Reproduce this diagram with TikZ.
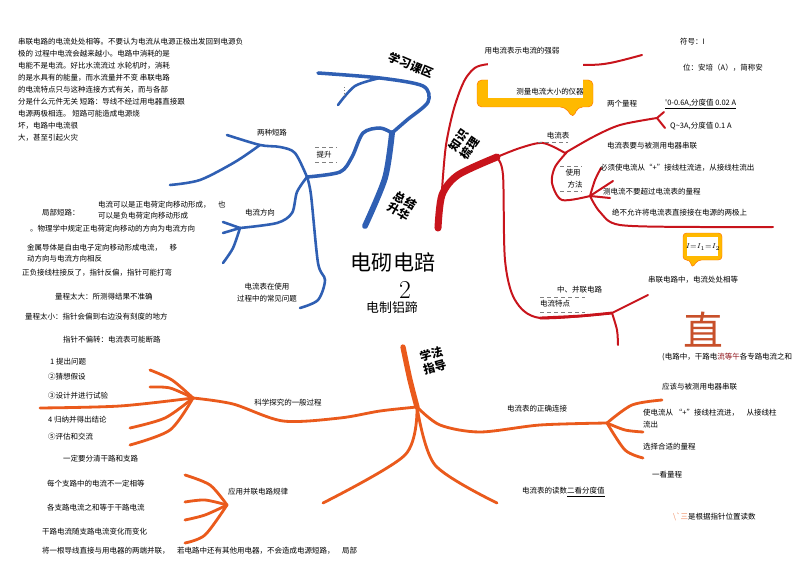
\documentclass[tikz,border=0pt]{standalone}
\usepackage{fontspec}
\newfontfamily\cjk{Noto Sans CJK SC}
\definecolor{mblue}{HTML}{2F5FB3}
\definecolor{mred}{HTML}{C8141C}
\definecolor{morange}{HTML}{EA5A1C}
\definecolor{mzhi}{HTML}{C8502A}
\begin{document}
\begin{tikzpicture}[x=0.03cm,y=-0.03cm,
  txt/.style={font=\cjk\fontsize{6.4}{10.2}\selectfont,inner sep=0pt,anchor=west,align=left},
  lbl/.style={txt,anchor=center,align=center},
  tag/.style={font=\cjk\bfseries\fontsize{10}{11.5}\selectfont,inner sep=0pt,align=center},
  bluebr/.style={draw=mblue,line width=2.2pt,line cap=round},
  redbr/.style={draw=mred,line width=1.7pt,line cap=round},
  orbr/.style={draw=morange,line width=2.4pt,line cap=round},
  dsh/.style={draw=gray,dashed,line width=0.3pt}]
\fill[white] (0,0) rectangle (800,562);
\useasboundingbox (0,0) rectangle (800,562);
% blue part
\draw[bluebr,line width=5pt] plot[smooth] coordinates {(392,133) (385,178) (365,226)};
\draw[bluebr,line width=3pt] plot[smooth] coordinates {(392,133) (407,120) (428,102) (423,86) (380,78) (318,73)};
\draw[bluebr] plot[smooth] coordinates {(380,78) (355,86) (338,105)};
\draw[bluebr,line width=3pt] plot[smooth] coordinates {(392,133) (380,128) (363,133) (352,157) (340,172) (307,177)};
\draw[bluebr] plot[smooth] coordinates {(307,177) (295,153) (280,147) (260,145) (227,135)};
\draw[bluebr] plot[smooth] coordinates {(260,145) (235,162) (200,180) (170,185)};
\draw[bluebr] plot[smooth] coordinates {(307,177) (297,192) (292,213) (277,223) (240,228)};
\draw[bluebr] (240,228) -- (223,222);
\draw[bluebr] (240,228) -- (223,233);
\draw[bluebr] plot[smooth] coordinates {(240,228) (233,248) (223,263)};
\draw[bluebr] plot[smooth] coordinates {(307,177) (311,195) (318,263) (325,280) (318,300) (300,308)};
\draw[dsh] (315,147) -- (337,147);
\draw[dsh] (315,162) -- (337,162);
\draw[gray,dotted] (344,87) -- (344,96);
% red part
\draw[redbr] plot[smooth] coordinates {(442,190) (446,145) (455,105) (468,75) (490,64) (583,65) (610,63) (642,55)};
\draw[draw=orange!90!red,fill=orange!55!yellow,rounded corners=4] (477,80) -- (593,80) -- (593,107) -- (578,107) -- (573,118) -- (565,107) -- (477,107) -- cycle;
\fill[white] (488,58) rectangle (583,98);
\draw[redbr,line width=6pt] plot[smooth] coordinates {(438,228) (442,195) (458,175) (497,157)};
\draw[redbr] plot[smooth] coordinates {(497,157) (520,148) (543,143) (565,153)};
\draw[redbr] plot[smooth] coordinates {(565,153) (593,137) (620,125) (657,118)};
\draw[redbr] (657,118) -- (664,112);
\draw[redbr] (657,118) -- (665,128);
\draw[redbr] plot[smooth] coordinates {(567,152) (555,167) (552,183) (562,200) (590,196)};
\draw[redbr] plot[smooth] coordinates {(590,196) (595,180) (601,168)};
\draw[redbr] (590,196) -- (613,181);
\draw[redbr] (590,196) -- (610,198);
\draw[redbr] plot[smooth] coordinates {(590,196) (600,212) (620,225) (700,227) (773,227)};
\draw[redbr] plot[smooth] coordinates {(497,158) (503,175) (505,260) (515,300) (540,318) (612,313)};
\draw[redbr,line width=2.4pt] plot[smooth] coordinates {(540,318) (580,316) (612,313)};
\draw[redbr] (612,313) -- (648,295);
\draw[redbr] plot[smooth] coordinates {(612,313) (617,330) (618,345)};
\draw[dsh] (538,142) -- (568,142);
\draw[dsh] (560,166) -- (582,166);
\draw[dsh] (560,191) -- (582,191);
\draw[dsh] (540,297) -- (585,297);
\draw[dsh] (540,312) -- (585,312);
\draw[draw=orange!90!red,fill=orange!55!yellow,rounded corners=3] (683,233) -- (722,233) -- (722,260) -- (698,260) -- (692,268) -- (690,260) -- (683,260) -- cycle;
\fill[white] (687,237) rectangle (718,256);
% orange part
\draw[orbr,line width=4.5pt] plot[smooth] coordinates {(403,347) (410,380) (417,407)};
\draw[orbr] plot[smooth] coordinates {(417,407) (380,411) (340,418) (283,421) (233,404) (193,398)};
\draw[orbr] plot[smooth] coordinates {(193,398) (172,380) (150,370)};
\draw[orbr] plot[smooth] coordinates {(193,398) (170,388) (150,387)};
\draw[orbr] plot[smooth] coordinates {(193,398) (120,406) (40,408)};
\draw[orbr] plot[smooth] coordinates {(193,398) (165,418) (130,428)};
\draw[orbr] plot[smooth] coordinates {(193,398) (170,430) (130,445)};
\draw[orbr] plot[smooth] coordinates {(417,407) (405,455) (323,503)};
\draw[orbr] plot[smooth] coordinates {(417,407) (435,465) (497,503)};
\draw[orbr] plot[smooth] coordinates {(417,407) (440,425) (480,432) (540,425) (607,423)};
\draw[orbr] plot[smooth] coordinates {(607,423) (632,405) (662,400)};
\draw[orbr] plot[smooth] coordinates {(607,423) (625,430) (643,432)};
\draw[orbr] plot[smooth] coordinates {(607,423) (625,450) (643,458)};
\draw[orbr] plot[smooth] coordinates {(227,505) (210,485) (185,475)};
\draw[orbr] plot[smooth] coordinates {(227,505) (205,500) (185,502)};
\draw[orbr] plot[smooth] coordinates {(227,505) (205,515) (185,520)};
\draw[orbr] plot[smooth] coordinates {(227,505) (205,535) (185,543)};
% tags
\node[tag,rotate=-23] (xuexi) at (411,65) {学习课区};
\node[tag,rotate=55] (zhishi) at (464,144) {知识\\梳理};
\node[tag,rotate=-30] (zongjie) at (402,206) {总结\\升华};
\node[tag,rotate=15] (xuefa) at (433,361) {学法\\指导};
% title
\node[font=\cjk\fontsize{18}{20}\selectfont,inner sep=0pt] (title) at (393,262) {电砌电踣};
\node[font=\fontsize{22}{24}\selectfont,inner sep=0pt] (num) at (405,290) {2};
\node[font=\cjk\fontsize{11}{13}\selectfont,inner sep=0pt] (subtitle) at (392,308) {电制铝蹄};
% top left
\node[txt,anchor=north west] (para) at (18,38) {串联电路的电流处处相等。不要认为电流从电源正极出发回到电源负\\
极的\ 过程中电流会越来越小。电路中消耗的是\\
电能不是电流。好比水流流过\ 水轮机时，消耗\\
的是水具有的能量，而水流量并不变\ 串联电路\\
的电流特点只与这种连接方式有关，而与各部\\
分是什么元件无关\ 短路：导线不经过用电器直接跟\\
电源两极相连。\ 短路可能造成电源烧\\
坏，电路中电流很\\
大，甚至引起火灾};
% blue labels
\node[lbl] (liangzhong) at (272,133) {两种短路};
\node[lbl] (tisheng) at (324,155) {提升};
\node[lbl] (fangxiang) at (260,213) {电流方向};
\node[lbl] (wenti) at (267,293) {电流表在使用\\过程中的常见问题};
\node[txt] (dianhe1) at (98,205) {电流可以是正电荷定向移动形成，\quad 也};
\node[txt] (dianhe2) at (98,216) {可以是负电荷定向移动形成};
\node[txt] (jubu) at (42,213) {局部短路：};
\node[txt] (guiding) at (30,229) {。物理学中规定正电荷定向移动的方向为电流方向};
\node[txt] (jinshu1) at (27,248) {金属导体是自由电子定向移动形成电流，\quad 移};
\node[txt] (jinshu2) at (27,259) {动方向与电流方向相反};
\node[txt] (jiefan) at (22,273) {正负接线柱接反了，指针反偏，指针可能打弯};
\node[txt] (taida) at (55,297) {量程太大：所测得结果不准确};
\node[txt] (taixiao) at (25,317) {量程太小：指针会偏到右边没有刻度的地方};
\node[txt] (buzhuan) at (63,340) {指针不偏转：电流表可能断路};
% red labels
\node[lbl] (qiangruo) at (522,51) {用电流表示电流的强弱};
\node[lbl] (yiqi) at (550,92) {测量电流大小的仪器};
\node[txt] (fuhao) at (680,42) {符号：\textit{I}};
\node[txt] (danwei) at (683,68) {位：安培（A），简称安};
\node[txt] (liangcheng) at (607,104) {两个量程};
\node[txt] (small) at (665,104) {\underline{'0-0.6A,分度值 0.02 A}};
\node[txt] (big) at (670,126) {Q\textasciitilde{}3A,分度值 0.1 A};
\node[lbl] (biao) at (558,136) {电流表};
\node[txt] (chuanlian) at (607,146) {电流表要与被测用电器串联};
\node[txt] (liujin) at (600,168) {必须使电流从“+”接线柱流进，从接线柱流出};
\node[txt] (chaoguo) at (603,192) {测电流不要超过电流表的量程};
\node[txt] (buyunxu) at (612,213) {绝不允许将电流表直接接在电源的两极上};
\node[lbl] (shiyong) at (573,173) {使用};
\node[lbl] (fangfa) at (575,185) {方法};
\node[font=\fontsize{6.5}{7}\selectfont,inner sep=0pt] (formula) at (703,247) {$I{=}I_1{=}I_2$};
\node[txt] (xiangdeng) at (648,280) {串联电路中，电流处处相等};
\node[txt] (bingl) at (557,290) {中、并联电路};
\node[txt] (tedian) at (540,304) {电流特点};
\node[font=\cjk\fontsize{34}{36}\selectfont,text=mzhi,inner sep=0pt] (zhi) at (703,330) {直};
\node[txt] (zhihe) at (662,357) {(电路中，干路电\textcolor{mred!70!black}{流等午}各专路电流之和};
% orange labels
\node[lbl] (tanjiu) at (288,403) {科学探究的一般过程};
\node[txt] (s1) at (50,362) {1 提出问题};
\node[txt] (s2) at (48,377) {②猜想假设};
\node[txt] (s3) at (48,396) {③设计并进行试验};
\node[txt] (s4) at (48,420) {4 归纳并得出结论};
\node[txt] (s5) at (48,437) {⑤评估和交流};
\node[txt] (ganlu) at (63,459) {一定要分清干路和支路};
\node[txt] (p1) at (47,484) {每个支路中的电流不一定相等};
\node[txt] (p2) at (47,508) {各支路电流之和等于干路电流};
\node[txt] (p3) at (42,532) {干路电流随支路电流变化而变化};
\node[txt] (p4) at (42,551) {将一根导线直接与用电器的两端并联，\quad 若电路中还有其他用电器，不会造成电源短路，\quad 局部};
\node[txt] (guilv) at (228,492) {应用并联电路规律};
\node[txt] (lianjie) at (507,409) {电流表的正确连接};
\node[txt] (c1) at (662,387) {应该与被测用电器串联};
\node[txt] (c2) at (643,413) {使电流从 “+”接线柱流进，\quad 从接线柱};
\node[txt] (c2b) at (643,425) {流出};
\node[txt] (c3) at (643,447) {选择合适的量程};
\node[txt] (r1) at (652,475) {一看量程};
\node[txt] (r2) at (522,492) {电流表的读数\underline{二看分度值}};
\node[txt] (r3) at (673,517) {\textcolor{morange!70}{\textbackslash`三}是根据指针位置读数};
\end{tikzpicture}
\end{document}
